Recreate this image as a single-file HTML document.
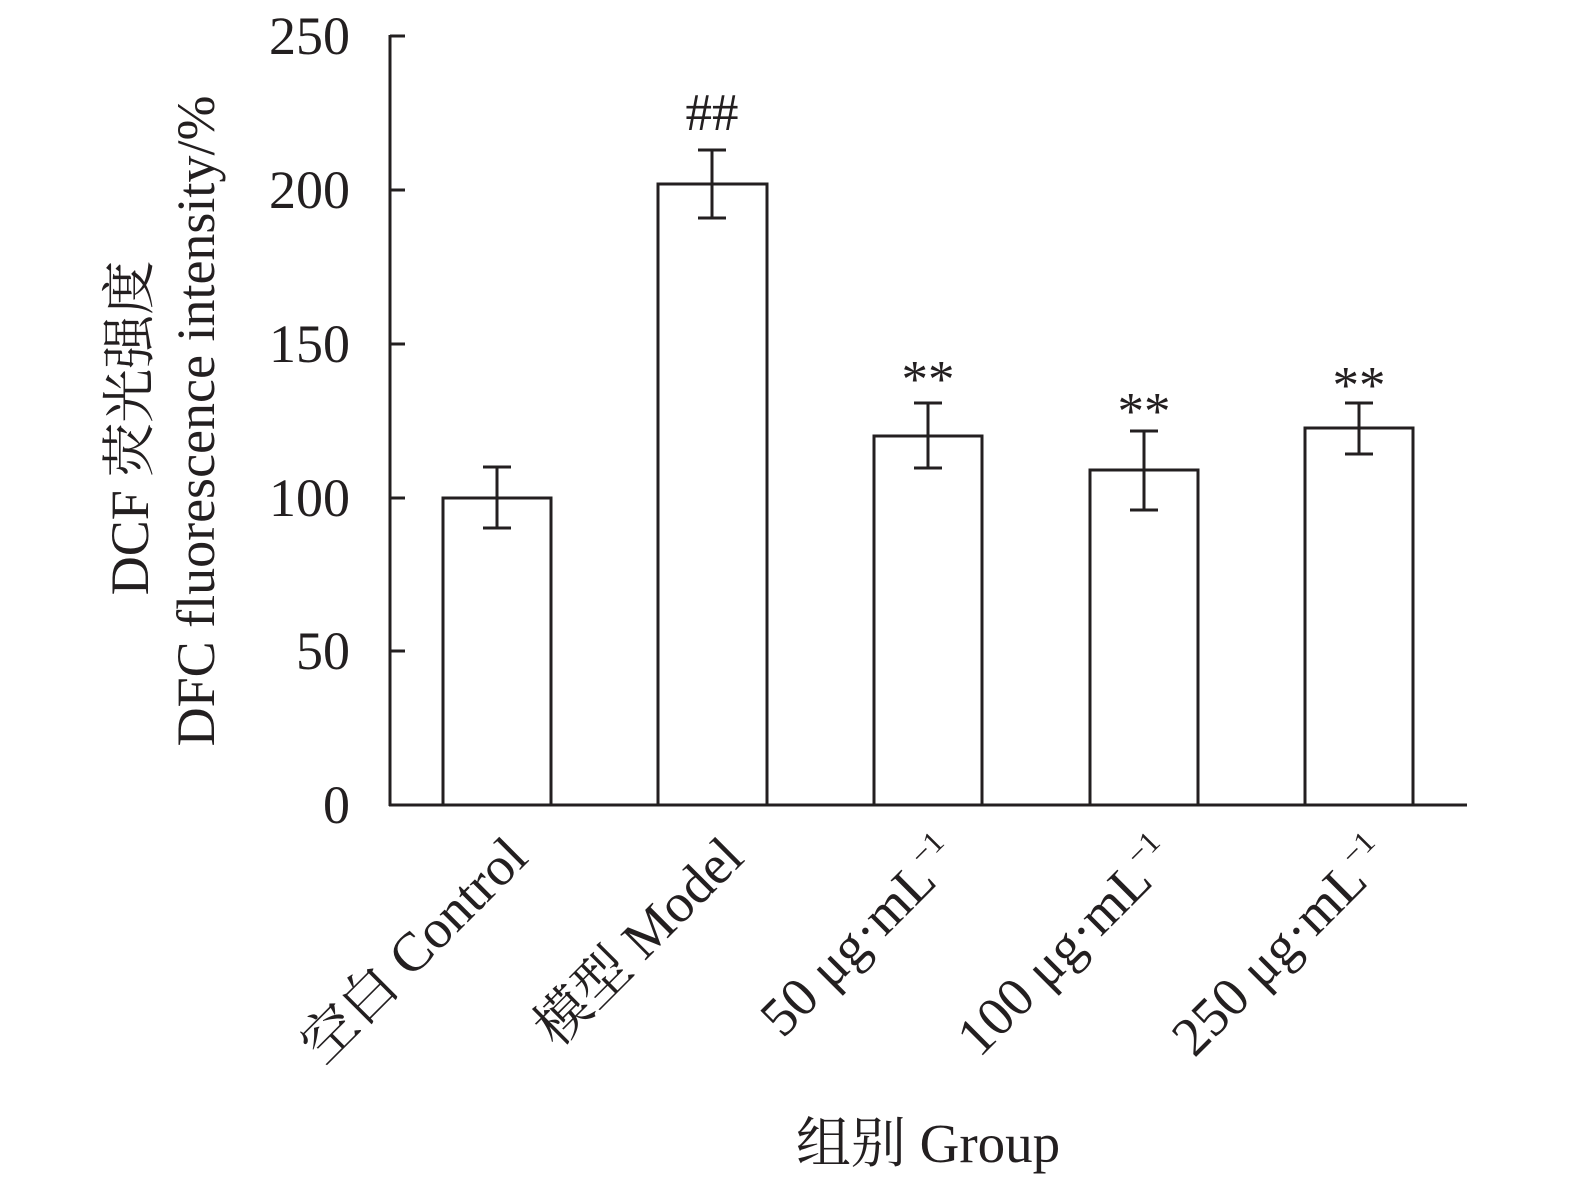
<!DOCTYPE html>
<html><head><style>body{margin:0;background:#fff}</style></head><body>
<svg width="1575" height="1189" xmlns="http://www.w3.org/2000/svg" font-family="Liberation Serif, Noto Serif CJK SC, serif" fill="#231f20">
<g stroke="#231f20" stroke-width="3" fill="none">
<line x1="390" y1="35" x2="390" y2="806"/>
<line x1="389" y1="805" x2="1467" y2="805"/>
<line x1="390" y1="36" x2="405" y2="36"/>
<line x1="390" y1="190" x2="405" y2="190"/>
<line x1="390" y1="344" x2="405" y2="344"/>
<line x1="390" y1="498" x2="405" y2="498"/>
<line x1="390" y1="651" x2="405" y2="651"/>
<rect x="443" y="498" width="108" height="307"/>
<rect x="658" y="184" width="109" height="621"/>
<rect x="874" y="436" width="108" height="369"/>
<rect x="1090" y="470" width="108" height="335"/>
<rect x="1305" y="428" width="108" height="377"/>
<path d="M497 467V528M483 467h28M483 528h28"/>
<path d="M712 150V218M698 150h28M698 218h28"/>
<path d="M928 403V468M914 403h28M914 468h28"/>
<path d="M1144 431V510M1130 431h28M1130 510h28"/>
<path d="M1359 403V454M1345 403h28M1345 454h28"/>
</g>
<g font-size="54" text-anchor="end">
<text x="350" y="54">250</text><text x="350" y="208">200</text><text x="350" y="362">150</text>
<text x="350" y="516">100</text><text x="350" y="669">50</text><text x="350" y="823">0</text>
</g>
<g font-size="53" text-anchor="middle">
<text x="712" y="130">##</text>
<text x="928" y="397">**</text><text x="1144" y="429">**</text><text x="1359" y="403">**</text>
</g>
<g font-size="54" text-anchor="middle">
<text transform="translate(148,428) rotate(-90)">DCF 荧光强度</text>
<text transform="translate(214,421) rotate(-90)">DFC fluorescence intensity/%</text>
</g>
<g font-size="55" text-anchor="end">
<text transform="translate(530,860) rotate(-45)">空白 Control</text>
<text transform="translate(746,860) rotate(-45)">模型 Model</text>
<text transform="translate(962,860) rotate(-45)">50 μg·mL<tspan font-size="31" dy="-23">−1</tspan></text>
<text transform="translate(1178,860) rotate(-45)">100 μg·mL<tspan font-size="31" dy="-23">−1</tspan></text>
<text transform="translate(1393,860) rotate(-45)">250 μg·mL<tspan font-size="31" dy="-23">−1</tspan></text>
</g>
<text x="928" y="1162" font-size="55" text-anchor="middle">组别 Group</text>
</svg>
</body></html>
